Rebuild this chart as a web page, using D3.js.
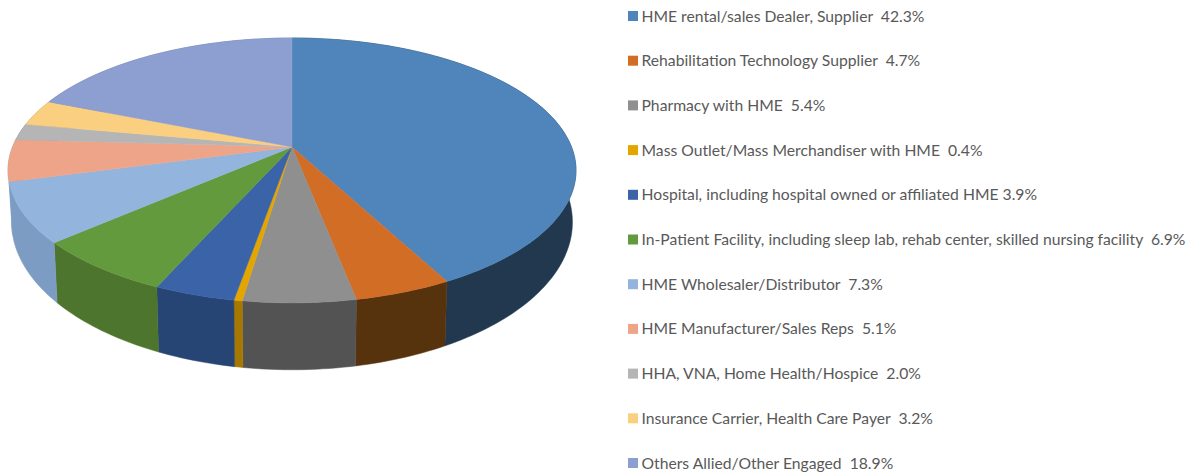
<!DOCTYPE html>
<html>
<head>
<meta charset="utf-8">
<script src="https://cdnjs.cloudflare.com/ajax/libs/d3/7.8.5/d3.min.js"></script>
<style>
  html, body { margin: 0; padding: 0; background: #fff; }
  text { white-space: pre; }
</style>
</head>
<body>
<div id="chart"></div>
<script>
// names keep their trailing gap, the source legend is not consistent about it
const categories = [
  'HME rental/sales Dealer, Supplier  ',
  'Rehabilitation Technology Supplier  ',
  'Pharmacy with HME  ',
  'Mass Outlet/Mass Merchandiser with HME  ',
  'Hospital, including hospital owned or affiliated HME ',
  'In-Patient Facility, including sleep lab, rehab center, skilled nursing facility  ',
  'HME Wholesaler/Distributor  ',
  'HME Manufacturer/Sales Reps  ',
  'HHA, VNA, Home Health/Hospice  ',
  'Insurance Carrier, Health Care Payer  ',
  'Others Allied/Other Engaged  '
];
const values = [42.3, 4.7, 5.4, 0.4, 3.9, 6.9, 7.3, 5.1, 2.0, 3.2, 18.9];
const topColors = ['#4f85bb', '#d26d26', '#8f8f8f', '#e3a600', '#3a63a8', '#639a3d', '#93b5dd', '#eda488', '#b5b5b5', '#fbcf80', '#8d9ed1'];
const sideColors = ['#203850', '#57300e', '#525252', '#a67800', '#274474', '#4d742d', '#7c9cc4', '#7c9cc4', '#808080', '#b29259', '#646f94'];

const width = 1196;
const height = 476;

const svg = d3.select('#chart').append('svg')
  .attr('width', width)
  .attr('height', height)
  .style('display', 'block');

svg.append('filter').attr('id', 'soft')
  .append('feGaussianBlur').attr('stdDeviation', 0.6);

// disc seen in perspective: near edge is stretched, far edge squeezed
const tilt = -0.177;
const topDisc = { cx: 292, cy: 147, kx: 279.5, ky: 128.3 };
const bottomDisc = { cx: 292, cy: 196, kx: 276, ky: 143 };

function project(disc, angle) {
  const u = Math.sin(angle);
  const v = -Math.cos(angle);
  const d = 1 + tilt * v;
  return [disc.cx + disc.kx * u / d, disc.cy + disc.ky * v / d];
}

function rim(disc, a0, a1) {
  const n = Math.max(2, Math.ceil((a1 - a0) / 0.02));
  return d3.range(n + 1).map(i => project(disc, a0 + (a1 - a0) * i / n));
}

const slices = d3.pie().sort(null)(values);
const line = d3.line().curve(d3.curveLinear);

const pie = svg.append('g').attr('filter', 'url(#soft)');

pie.selectAll('path.side')
  .data(slices)
  .enter().append('path')
    .attr('class', 'side')
    .attr('fill', d => sideColors[d.index])
    .attr('stroke', d => sideColors[d.index])
    .attr('stroke-width', 0.5)
    .attr('d', d => line(rim(topDisc, d.startAngle, d.endAngle)
      .concat(rim(bottomDisc, d.startAngle, d.endAngle).reverse())) + 'Z');

pie.selectAll('path.top')
  .data(slices)
  .enter().append('path')
    .attr('class', 'top')
    .attr('fill', d => topColors[d.index])
    .attr('stroke', d => topColors[d.index])
    .attr('stroke-width', 0.5)
    .attr('d', d => line([[topDisc.cx, topDisc.cy]].concat(rim(topDisc, d.startAngle, d.endAngle))) + 'Z');

// legend
const legendY = d3.scalePoint()
  .domain(d3.range(categories.length))
  .range([16, 463]);

const legend = svg.selectAll('g.legend')
  .data(categories)
  .enter().append('g')
    .attr('class', 'legend')
    .attr('transform', (d, i) => `translate(628,${legendY(i)})`);

legend.append('rect')
  .attr('y', -5)
  .attr('width', 10)
  .attr('height', 10)
  .attr('fill', (d, i) => topColors[i]);

legend.append('text')
  .attr('x', 13.5)
  .attr('dy', '0.35em')
  .attr('fill', '#595959')
  .style('font-family', 'Lato, sans-serif')
  .style('font-size', '15.7px')
  .text((d, i) => d + values[i].toFixed(1) + '%');
</script>
</body>
</html>
